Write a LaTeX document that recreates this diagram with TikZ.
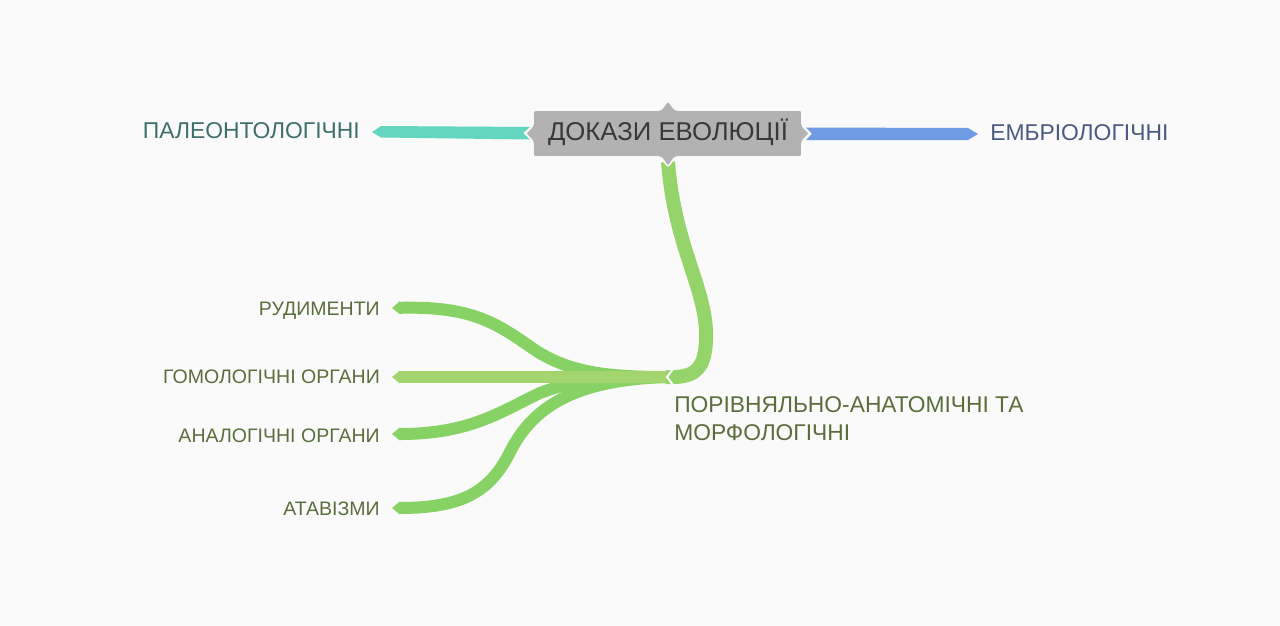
\documentclass[tikz,border=0pt]{standalone}
\usepackage{fontspec}
\setmainfont{Liberation Sans}
\usetikzlibrary{arrows.meta}
\definecolor{bg}{HTML}{FAFAFA}
\definecolor{boxgray}{HTML}{B2B2B2}
\definecolor{tealc}{HTML}{62D6BE}
\definecolor{bluec}{HTML}{6E9BE3}
\definecolor{greenc}{HTML}{86D264}
\definecolor{greenl}{HTML}{A3D46E}
\definecolor{greent}{HTML}{95D46A}
\definecolor{txtgreen}{HTML}{5A6E3C}
\definecolor{txtteal}{HTML}{3F6F6C}
\definecolor{txtblue}{HTML}{4A5A80}
\definecolor{txtdark}{HTML}{383838}
\tikzset{
  leaflabel/.style={inner sep=0pt, anchor=east, text height=0.72em, text depth=0pt,
    font=\fontsize{14.65}{17}\selectfont, text=txtgreen},
  toplabel/.style={inner sep=0pt, text height=0.72em, text depth=0pt,
    font=\fontsize{17.15}{20}\selectfont},
  branch/.style={line width=9pt, draw=greenc, line cap=butt,
    {Triangle[length=6pt,width=9.5pt]}-},
  gap/.style={draw=bg, line width=1.4pt, line join=miter}
}
\begin{document}
\begin{tikzpicture}[x=0.75pt,y=-0.75pt]
\fill[bg] (0,0) rectangle (1280,625);
\useasboundingbox (0,0) rectangle (1280,625);

% hub and coordinates
\coordinate (hub) at (666,377);
\coordinate (rudS) at (392,308);
\coordinate (homS) at (392,377);
\coordinate (anaS) at (392,434);
\coordinate (ataS) at (392,508);
\coordinate (trunkTop) at (668,162);

% trunk
\draw[line width=10.5pt, draw=greent] (trunkTop) .. controls (675,250) and (708,290) .. (706,340)
   .. controls (705,372) and (692,378) .. (hub);

% left branches
\draw[branch] (rudS) .. controls (470,306) and (495,322) .. (532,348)
   .. controls (567,372) and (605,377) .. (hub);
\draw[branch] (ataS) .. controls (462,508) and (490,492) .. (510,452)
   .. controls (535,402) and (582,380) .. (hub);
\draw[branch] (anaS) .. controls (470,434) and (500,412) .. (540,393)
   .. controls (580,378) and (612,377) .. (hub);
\draw[branch, draw=greenl] (homS) -- (hub);

% hub notch
\draw[gap, line width=1.6pt] (673,369) -- (667,377) -- (673,385);

% teal branch
\fill[tealc] (372,132) -- (381,126) -- (530,127) -- (523,133) -- (530,139.5) -- (381,137.5) -- cycle;
% blue branch
\fill[bluec] (806,127.5) -- (968,128) -- (978,134) -- (968,140) -- (806,140) -- (812,133.8) -- cycle;

% central box
\filldraw[fill=boxgray, draw=bg, line width=1.2pt, rounded corners=2pt]
  (533,110) -- (661,110) -- (668,100) -- (675,110) -- (802,110) -- (802,126)
  -- (810,133.5) -- (802,141) -- (802,157) -- (675,157) -- (668,167) -- (661,157)
  -- (533,157) -- (533,141) -- (525,133.5) -- (533,126) -- cycle;
\node[inner sep=0pt, text height=0.72em, text depth=0pt, font=\fontsize{19.3}{22}\selectfont,
  text=txtdark] (root) at (668,136) {ДОКАЗИ ЕВОЛЮЦІЇ};

% top labels
\node[toplabel, anchor=east, text=txtteal] (paleo) at (360,133.5) {ПАЛЕОНТОЛОГІЧНІ};
\node[toplabel, anchor=west, text=txtblue] (embr) at (990,135.5) {ЕМБРІОЛОГІЧНІ};

% leaf labels
\node[leaflabel] (rud) at (380,311) {РУДИМЕНТИ};
\node[leaflabel] (hom) at (380,379) {ГОМОЛОГІЧНІ ОРГАНИ};
\node[leaflabel] (ana) at (380,438) {АНАЛОГІЧНІ ОРГАНИ};
\node[leaflabel] (ata) at (380,511) {АТАВІЗМИ};

% comparative label
\node[inner sep=0pt, anchor=north west, align=left, text=txtgreen,
  font=\fontsize{17.1}{21}\selectfont] (comp) at (674,396)
  {ПОРІВНЯЛЬНО-АНАТОМІЧНІ ТА\\МОРФОЛОГІЧНІ};
\end{tikzpicture}
\end{document}
